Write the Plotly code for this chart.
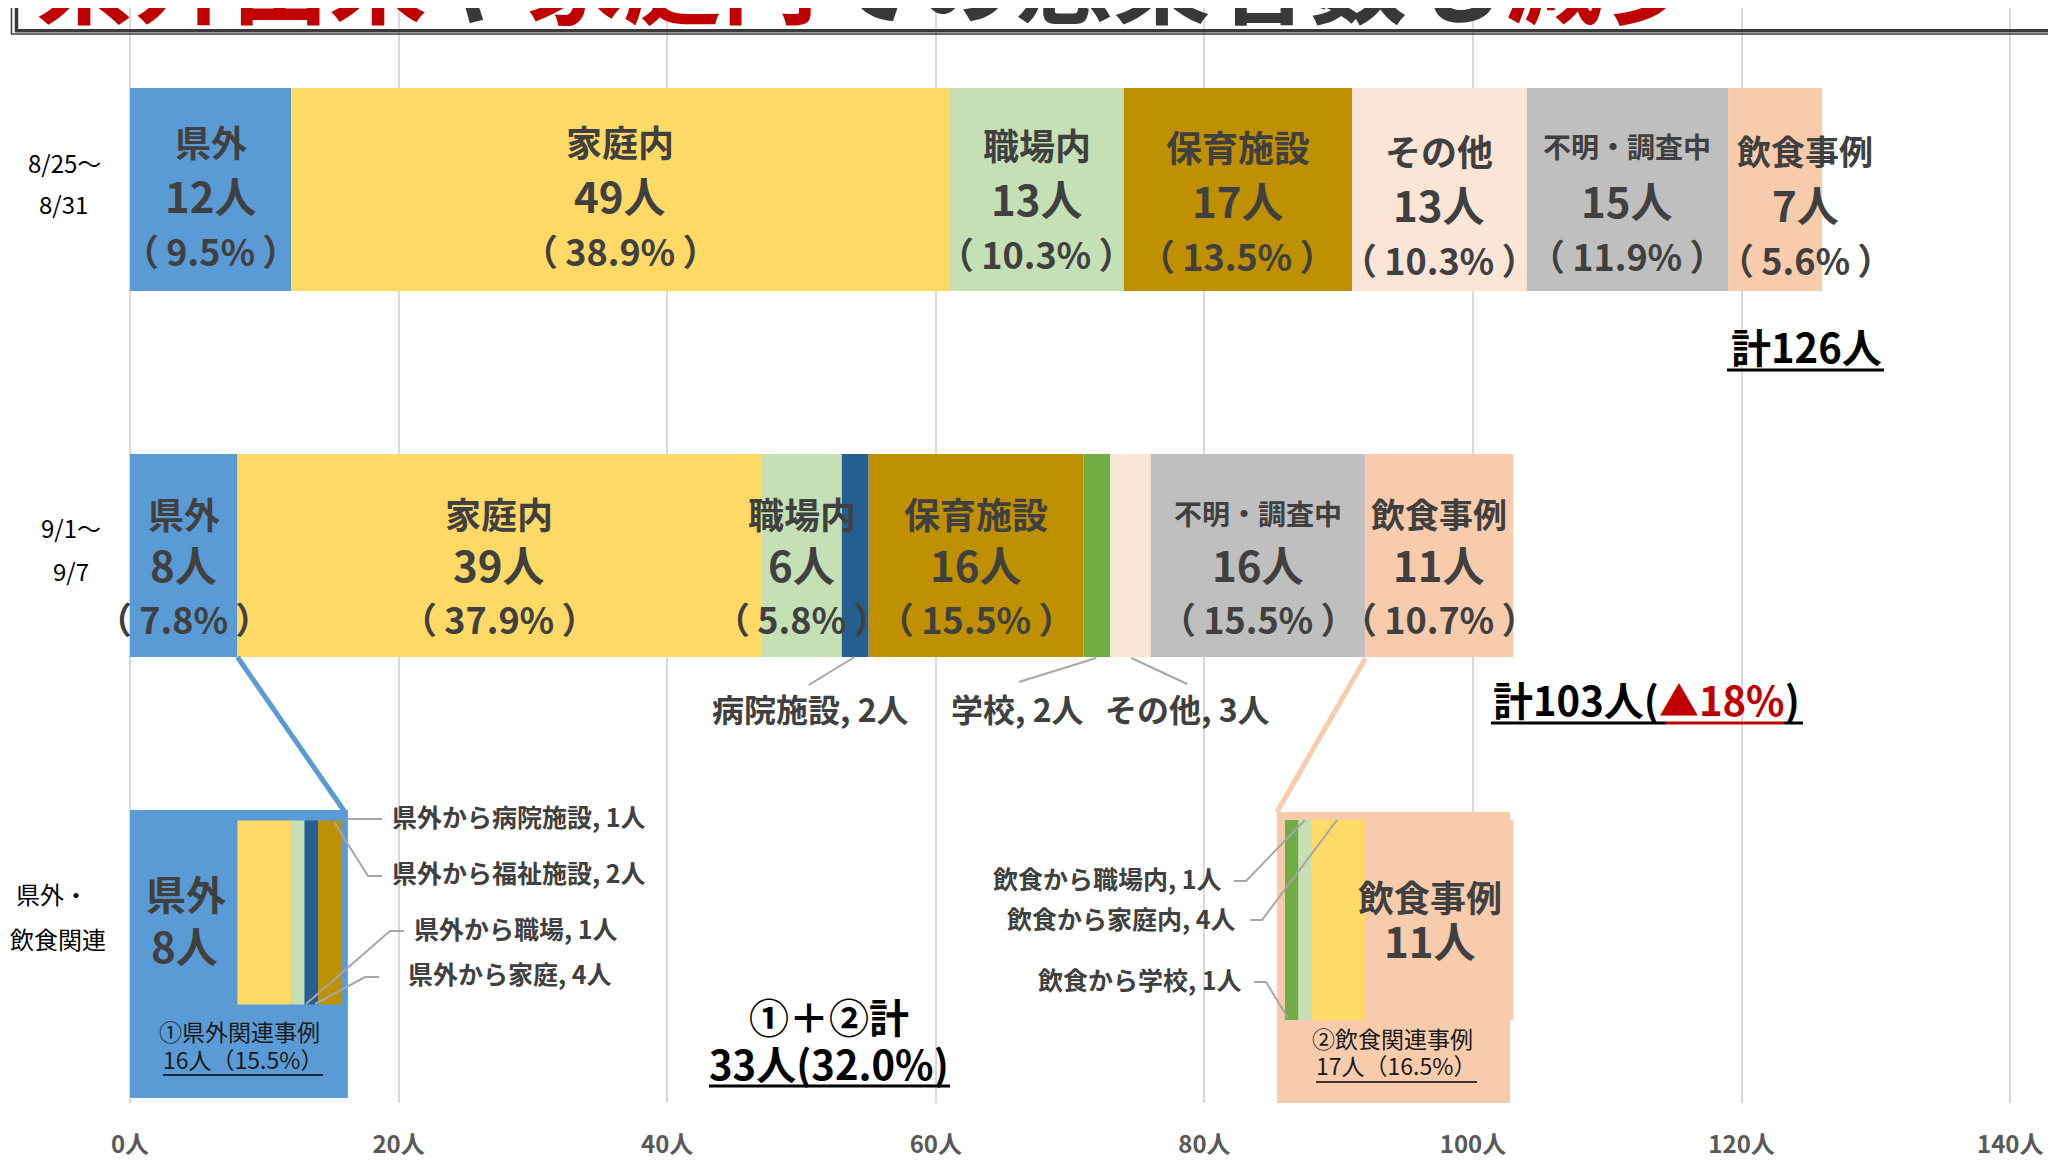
import plotly.graph_objects as go

# ---- data ----
week1_labels = ["県外", "家庭内", "職場内", "保育施設", "その他", "不明・調査中", "飲食事例"]
week1_counts = [12, 49, 13, 17, 13, 15, 7]
week1_pcts = ["9.5", "38.9", "10.3", "13.5", "10.3", "11.9", "5.6"]

week2_labels = ["県外", "家庭内", "職場内", "病院施設", "保育施設", "学校", "その他", "不明・調査中", "飲食事例"]
week2_counts = [8, 39, 6, 2, 16, 2, 3, 16, 11]
week2_pcts = ["7.8", "37.9", "5.8", None, "15.5", None, None, "15.5", "10.7"]

kengai_labels = ["県外", "家庭", "職場", "病院施設", "福祉施設"]
kengai_counts = [8, 4, 1, 1, 2]

inshoku_labels = ["学校", "職場内", "家庭内", "飲食事例"]
inshoku_counts = [1, 1, 4, 11]
inshoku_start = 86

row_labels = [["8/25～", "8/31"], ["9/1～", "9/7"], ["県外・", "飲食関連"]]
x_ticks = [0, 20, 40, 60, 80, 100, 120, 140]

COLORS = {
    "県外": "#5B9BD5", "家庭内": "#FFD966", "家庭": "#FFD966",
    "職場内": "#C5E0B4", "職場": "#C5E0B4", "病院施設": "#255E91",
    "保育施設": "#BF9000", "福祉施設": "#BF9000", "学校": "#70AD47",
    "その他": "#FBE5D6", "不明・調査中": "#BFBFBF", "飲食事例": "#F8CBAD",
}
FONT = "Noto Sans CJK JP"
TXT = "#404040"
RED = "#C00000"

# ---- geometry, in pixels of the 2056x1160 page (page body has an 8px margin) ----
OFF = 8
W, H = 2056 - OFF, 1160 - OFF
X0_PX = 130            # page x of 0人
PX = 13.43             # pixels per person
PLOT_W = 1920
XMAX = PLOT_W / PX
Y_TOP, Y_BOT = OFF, 1103
L = X0_PX - OFF
R = W - L - PLOT_W
B = H - (Y_BOT - OFF)
TY = -4                # small lift for text centring


def X(px):
    return (px - X0_PX) / PX


def PXp(px):
    return (px - X0_PX) / PLOT_W


def PYp(py):
    return (Y_BOT - py) / (Y_BOT - Y_TOP)


def starts(counts, first=0):
    out, s = [], first
    for c in counts:
        out.append(s)
        s += c
    return out


fig = go.Figure()


def add_row(labels, counts, y, height, first=0):
    fig.add_trace(go.Bar(
        x=counts, base=starts(counts, first), y=[y] * len(counts),
        width=height, orientation="h",
        marker=dict(color=[COLORS[c] for c in labels], line=dict(width=0)),
        hoverinfo="skip", showlegend=False,
    ))


def note(x, y, text, size, color=TXT, bold=True, xanchor="center", xshift=0):
    fig.add_annotation(
        x=x, y=y + TY, xref="x", yref="y", text=text, showarrow=False,
        xanchor=xanchor, yanchor="middle", xshift=xshift,
        font=dict(family=FONT, size=size, color=color,
                  weight="bold" if bold else "normal"),
    )


def poly(points, color="#A6A6A6", width=2):
    path = "M " + " L ".join(f"{X(px)},{py}" for px, py in points)
    fig.add_shape(type="path", path=path, xref="x", yref="y",
                  line=dict(color=color, width=width), layer="above")


def hline(x0, x1, y, color="black", width=3):
    fig.add_shape(type="line", x0=X(x0), x1=X(x1), y0=y, y1=y, xref="x", yref="y",
                  line=dict(color=color, width=width), layer="above")


# ---- boxes for the third row (under the bars) ----
fig.add_shape(type="rect", x0=0, x1=16, y0=812, y1=1096, xref="x", yref="y",
              fillcolor=COLORS["県外"], line=dict(width=0), layer="between")
fig.add_shape(type="rect", x0=X(1277), x1=X(1510), y0=812, y1=1103, xref="x", yref="y",
              fillcolor=COLORS["飲食事例"], line=dict(width=0), layer="between")

# ---- bars ----
ROW_Y = [189.5, 555.5]
BAR_H = 203
add_row(week1_labels, week1_counts, ROW_Y[0], BAR_H)
add_row(week2_labels, week2_counts, ROW_Y[1], BAR_H)
add_row(kengai_labels, kengai_counts, 912.5, 184)
add_row(inshoku_labels, inshoku_counts, 920, 200, inshoku_start)

# outline of the 県外 box, over its bars
fig.add_shape(type="rect", x0=0.15, x1=16, y0=813, y1=1095, xref="x", yref="y",
              line=dict(color=COLORS["県外"], width=6), layer="above")

# ---- segment labels in the two week rows ----
NAME_SIZE = {"不明・調査中": 28, "飲食事例": 34}
ROW_TEXT_Y = [(145, 198, 254), (517, 567, 622)]
SHIFT = {(0, "飲食事例"): 30}
# the slide's text boxes on the first row sit a little lower to the right
DROP = {(0, "職場内"): 3, (0, "保育施設"): 5, (0, "その他"): 9,
        (0, "不明・調査中"): 5, (0, "飲食事例"): 9}
TS = "\u2009"
for r, (labels, counts, pcts) in enumerate([(week1_labels, week1_counts, week1_pcts),
                                            (week2_labels, week2_counts, week2_pcts)]):
    yn, yc, yp = ROW_TEXT_Y[r]
    for lab, c, s, p in zip(labels, counts, starts(counts), pcts):
        if p is None:
            continue
        xc = s + c / 2
        sh = SHIFT.get((r, lab), 0)
        dy = DROP.get((r, lab), 0)
        note(xc, yn + dy, lab, NAME_SIZE.get(lab, 36), xshift=sh)
        note(xc, yc + dy, f"{c}人", 42, xshift=sh)
        note(xc, yp + dy, f"（{TS}{p}%{TS}）", 36, xshift=sh)

# small segments of week 2, labelled outside
w2 = dict(zip(week2_labels, week2_counts))
note(X(810), 712, f"病院施設, {w2['病院施設']}人", 32)
note(X(1017), 712, f"学校, {w2['学校']}人", 32)
note(X(1187), 712, f"その他, {w2['その他']}人", 32)
poly([(854.6, 657), (808.7, 685)])
poly([(1096.3, 658), (1018.9, 682)])
poly([(1131.3, 658), (1187.2, 684)])

# ---- totals ----
total1, total2 = sum(week1_counts), sum(week2_counts)
drop = round((total1 - total2) / total1 * 100)
note(X(1806), 350, f"計{total1}人", 40, color="black")
hline(1727, 1884, 370)
note(X(1491), 703, f"計{total2}人(<span style='color:{RED}'>▲{drop}%</span>)", 40,
     color="black", xanchor="left")
hline(1491, 1666, 723)
hline(1666, 1784, 723, color=RED)
hline(1784, 1803, 723)

# ---- third row: 県外 breakdown ----
kg = dict(zip(kengai_labels, kengai_counts))
kg_total = sum(kengai_counts)
in_total = sum(inshoku_counts)
note(X(186), 897, "県外", 40)
note(X(184), 948, f"{kg['県外']}人", 42)
note(X(239), 1035, "①県外関連事例", 23, color="#1A1A1A", bold=False)
note(X(161), 1063, f"{kg_total}人（{kg_total / total2 * 100:.1f}%）", 23,
     color="#1A1A1A", bold=False, xanchor="left")
hline(163, 323, 1075, width=1.5)

note(X(390), 820, f"県外から病院施設, {kg['病院施設']}人", 25, xanchor="left")
note(X(390), 876, f"県外から福祉施設, {kg['福祉施設']}人", 25, xanchor="left")
note(X(412), 932, f"県外から職場, {kg['職場']}人", 25, xanchor="left")
note(X(406), 977, f"県外から家庭, {kg['家庭']}人", 25, xanchor="left")
poly([(348, 819), (382, 819)])
poly([(334, 822), (368, 876), (382, 876)])
poly([(404, 931), (390, 931), (306, 1004)])
poly([(379, 977), (365, 977), (315, 1004)])

# ---- third row: 飲食 breakdown ----
ins = dict(zip(inshoku_labels, inshoku_counts))
note(X(1430), 900, "飲食事例", 36)
note(X(1430), 943, f"{ins['飲食事例']}人", 42)
note(X(1310), 1042, "②飲食関連事例", 23, color="#1A1A1A", bold=False, xanchor="left")
note(X(1314), 1069, f"{in_total}人（{in_total / total2 * 100:.1f}%）", 23,
     color="#1A1A1A", bold=False, xanchor="left")
hline(1316, 1477, 1082, width=1.5)

note(X(1224), 882, f"飲食から職場内, {ins['職場内']}人", 25, xanchor="right")
note(X(1238), 922, f"飲食から家庭内, {ins['家庭内']}人", 25, xanchor="right")
note(X(1244), 983, f"飲食から学校, {ins['学校']}人", 25, xanchor="right")
poly([(1234, 881), (1246, 881), (1305, 820)])
poly([(1250, 920), (1262, 920), (1337, 820)])
poly([(1254, 982), (1266, 982), (1288, 1018)])

# connectors from week 2 to the breakdown boxes
poly([(X0_PX + 8 * PX, 657), (X0_PX + 16 * PX, 812)], color=COLORS["県外"], width=5)
poly([(X0_PX + 92 * PX, 658), (1277, 812)], color=COLORS["飲食事例"], width=5)

# ①+② total
both = kg_total + in_total
note(X(829), 1020, "①＋②計", 40, color="black")
note(X(829), 1067, f"{both}人({both / total2 * 100:.1f}%)", 40, color="black")
hline(709, 950, 1086)

# ---- row captions (left of the axis, so paper coords) ----
CAP_Y = [(166, 208), (531, 574), (898, 942)]
CAP_X = [(64, 63), (71, 71), (52, 58)]
for (l1, l2), (y1, y2), (x1, x2) in zip(row_labels, CAP_Y, CAP_X):
    for lab, xx, yy in ((l1, x1, y1), (l2, x2, y2)):
        fig.add_annotation(x=PXp(xx), y=PYp(yy + TY), xref="paper", yref="paper",
                           text=lab, showarrow=False, xanchor="center", yanchor="middle",
                           font=dict(family=FONT, size=24, color="black"))

# ---- title, cut off at the top of the slide ----
title = (f"<span style='color:{RED}'>県外由来</span>や"
         f"<span style='color:{RED}'>家庭内</span>での感染者数も"
         f"<span style='color:{RED}'>減少</span>")
fig.add_annotation(x=PXp(33), y=PYp(-27), xref="paper", yref="paper", text=title,
                   showarrow=False, xanchor="left", yanchor="middle",
                   font=dict(family=FONT, size=98, color="#383838", weight="bold"))
fig.add_shape(type="rect", x0=PXp(11.5), x1=PXp(2090), y0=PYp(34), y1=PYp(-30),
              xref="paper", yref="paper", line=dict(color="#3A3A3A", width=1.5))
fig.add_shape(type="rect", x0=PXp(16.5), x1=PXp(2090), y0=PYp(30.8), y1=PYp(-30),
              xref="paper", yref="paper", line=dict(color="#3A3A3A", width=3.5))

fig.update_layout(
    width=W, height=H,
    margin=dict(l=L, r=R, t=0, b=B),
    paper_bgcolor="white", plot_bgcolor="white",
    barmode="overlay", showlegend=False,
    xaxis=dict(
        range=[0, XMAX], tickvals=x_ticks, ticktext=[f"{v}人" for v in x_ticks],
        tickfont=dict(family=FONT, size=24, color="#595959", weight="bold"),
        showgrid=True, gridcolor="#D9D9D9", gridwidth=2,
        zeroline=True, zerolinecolor="#D9D9D9", zerolinewidth=2,
        showline=False, ticks="", ticklabelstandoff=25,
    ),
    yaxis=dict(range=[Y_BOT, Y_TOP], showgrid=False, zeroline=False,
               showticklabels=False, ticks=""),
)

fig.write_html("out.html")
